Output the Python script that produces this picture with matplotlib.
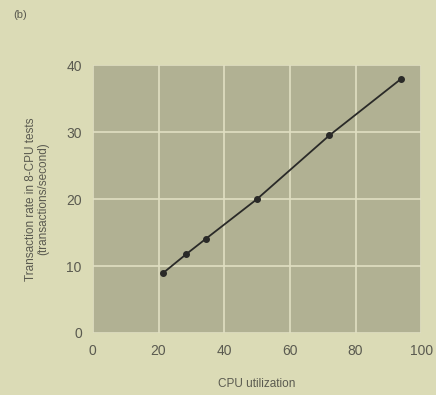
import matplotlib
matplotlib.use('Agg')
import matplotlib.pyplot as plt

plt.rcParams['font.family'] = ['Liberation Sans', 'DejaVu Sans']

# dane
cpu_util = [21.5, 28.5, 34.5, 50, 72, 94]
tx_rate = [9, 11.8, 14.1, 20, 29.5, 38]
x_ticks = [0, 20, 40, 60, 80, 100]
y_ticks = [0, 10, 20, 30, 40]

bg = '#dbdbb6'
panel = '#b1b193'
grid = '#e0dfc2'
txt = '#5a5a50'

fig = plt.figure(figsize=(4.36, 3.95), dpi=100, facecolor=bg)
ax = fig.add_axes([0.213, 0.157, 0.753, 0.678])
ax.set_facecolor(panel)

ax.plot(cpu_util, tx_rate, color='#2a2a28', linewidth=1.3, marker='o', markersize=4)

ax.set_xlim(0, 100)
ax.set_ylim(0, 40)
ax.set_xticks(x_ticks)
ax.set_yticks(y_ticks)
ax.grid(True, color=grid, linewidth=1.2)
ax.set_axisbelow(True)
for s in ax.spines.values():
    s.set_visible(False)
ax.tick_params(length=0, colors=txt, labelsize=10, pad=8)

ax.set_xlabel('CPU utilization', color=txt, fontsize=8.5, labelpad=14)
ax.set_ylabel('Transaction rate in 8-CPU tests\n(transactions/second)', color=txt,
              fontsize=8.5, labelpad=12, linespacing=1.0)

fig.text(0.03, 0.955, '(b)', color=txt, fontsize=8)

fig.savefig('out.png', dpi=100, facecolor=bg)
